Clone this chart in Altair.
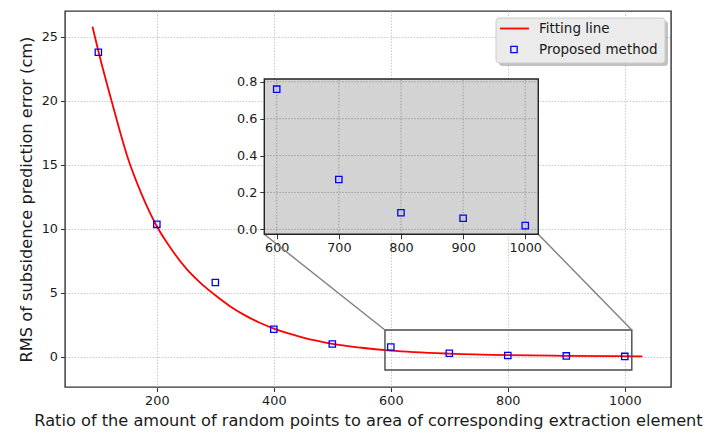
import altair as alt
import pandas as pd

# ---------------- data ----------------
fit_x = [90, 100, 125, 150, 175, 200, 225, 250, 275, 300, 325, 350, 375, 400, 425, 450, 475, 500,
         550, 600, 700, 800, 900, 1030]
fit_y = [25.8, 23.9, 19.6, 15.6, 12.6, 10.2, 8.4, 6.9, 5.75, 4.8, 3.95, 3.25, 2.67, 2.2, 1.82, 1.5, 1.23, 1.0,
         0.7, 0.48, 0.24, 0.12, 0.07, 0.03]

pts_x = [100, 200, 300, 400, 500, 600, 700, 800, 900, 1000]
pts_y = [23.8, 10.35, 5.8, 2.15, 0.99, 0.76, 0.27, 0.09, 0.06, 0.02]

main_xticks = [200, 400, 600, 800, 1000]
main_yticks = [0, 5, 10, 15, 20, 25]
inset_xticks = [600, 700, 800, 900, 1000]
inset_yticks = [0.0, 0.2, 0.4, 0.6, 0.8]

legend_labels = ["Fitting line", "Proposed method"]
x_title = "Ratio of the amount of random points to area of corresponding extraction element"
y_title = "RMS of subsidence prediction error (cm)"

# ---------------- layout / style constants ----------------
W, H = 606, 376
XD = [43, 1079]
YD = [-2.37, 27.03]
IXD = [580, 1021]
IYD = [-0.027, 0.815]
ZOOM = {"x": 590, "x2": 1012, "y": -1.04, "y2": 2.09}     # indicated region (main data coords)
INSET = {"x": 383.7, "x2": 852.1, "y": 9.57, "y2": 21.71}  # inset placement (main data coords)
FONT = "DejaVu Sans"
TXT = "#1a1a1a"


def px(x):
    return (x - XD[0]) / (XD[1] - XD[0]) * W


def py(y):
    return (YD[1] - y) / (YD[1] - YD[0]) * H


fit_df = pd.DataFrame({"x": fit_x, "y": fit_y})
pts_df = pd.DataFrame({"x": pts_x, "y": pts_y})
inset_pts_df = pts_df[pts_df["x"] >= 600]

xs = alt.Scale(domain=XD, nice=False, zero=False)
ys = alt.Scale(domain=YD, nice=False, zero=False)
x_axis = alt.Axis(values=main_xticks, format="d", title=x_title, grid=True, titlePadding=5)
y_axis = alt.Axis(values=main_yticks, format="d", title=y_title, grid=True, titlePadding=7)


def MX(f="x"):
    return alt.X(f"{f}:Q", scale=xs, axis=x_axis)


def MY(f="y"):
    return alt.Y(f"{f}:Q", scale=ys, axis=y_axis)


line = alt.Chart(fit_df).mark_line(color="#ff0000", strokeWidth=1.8, interpolate="monotone").encode(
    x=MX(), y=MY())

pts = alt.Chart(pts_df).mark_point(shape="square", filled=False, color="#0000ff", size=40,
                                   strokeWidth=1.3, opacity=1).encode(x=MX(), y=MY())

zoom_df = pd.DataFrame([ZOOM])
zoom_rect = alt.Chart(zoom_df).mark_rect(fillOpacity=0, stroke="#4a4a4a", strokeWidth=1.4).encode(
    x=MX("x"), x2="x2:Q", y=MY("y"), y2="y2:Q")

conn_df = pd.DataFrame({
    "x": [INSET["x"], INSET["x2"]],
    "y": [INSET["y"], INSET["y"]],
    "x2": [ZOOM["x"], ZOOM["x2"]],
    "y2": [ZOOM["y2"], ZOOM["y2"]],
})
connectors = alt.Chart(conn_df).mark_rule(color="#808080", strokeWidth=1.4).encode(
    x=MX("x"), x2="x2:Q", y=MY("y"), y2="y2:Q")

main = alt.layer(line, zoom_rect, connectors, pts)

# ---------------- inset ----------------
ixs = alt.Scale(domain=IXD, range=[px(INSET["x"]), px(INSET["x2"])], nice=False, zero=False)
iys = alt.Scale(domain=IYD, range=[py(INSET["y"]), py(INSET["y2"])], nice=False, zero=False)
ix_axis = alt.Axis(orient="bottom", offset=-(H - py(INSET["y"])), values=inset_xticks, format="d",
                   title=None, grid=False, domain=False)
iy_axis = alt.Axis(orient="left", offset=-px(INSET["x"]), values=inset_yticks, format=".1f",
                   title=None, grid=False, domain=False)


def IX(f="x"):
    return alt.X(f"{f}:Q", scale=ixs, axis=ix_axis)


def IY(f="y"):
    return alt.Y(f"{f}:Q", scale=iys, axis=iy_axis)


box_df = pd.DataFrame({"x": [IXD[0]], "x2": [IXD[1]], "y": [IYD[0]], "y2": [IYD[1]]})
inset_bg = alt.Chart(box_df).mark_rect(fill="#d3d3d3", stroke=None).encode(
    x=IX("x"), x2="x2:Q", y=IY("y"), y2="y2:Q")

vgrid_df = pd.DataFrame({"x": inset_xticks, "y": [IYD[0]] * len(inset_xticks), "y2": [IYD[1]] * len(inset_xticks)})
hgrid_df = pd.DataFrame({"y": inset_yticks, "x": [IXD[0]] * len(inset_yticks), "x2": [IXD[1]] * len(inset_yticks)})
vgrid = alt.Chart(vgrid_df).mark_rule(color="#9a9a9a", strokeWidth=0.9, strokeDash=[1.5, 1.5]).encode(
    x=IX("x"), y=IY("y"), y2="y2:Q")
hgrid = alt.Chart(hgrid_df).mark_rule(color="#9a9a9a", strokeWidth=0.9, strokeDash=[1.5, 1.5]).encode(
    y=IY("y"), x=IX("x"), x2="x2:Q")

inset_pts = alt.Chart(inset_pts_df).mark_point(shape="square", filled=False, color="#0000ff", size=40,
                                               strokeWidth=1.3, opacity=1).encode(x=IX(), y=IY())
inset_frame = alt.Chart(box_df).mark_rect(fillOpacity=0, stroke="#222222", strokeWidth=1.4).encode(
    x=IX("x"), x2="x2:Q", y=IY("y"), y2="y2:Q")

inset = alt.layer(inset_bg, vgrid, hgrid, inset_pts, inset_frame)

# ---------------- legend (drawn by hand, matplotlib style with shadow) ----------------
one = pd.DataFrame({"k": [0]})
LX0, LX1, LY0, LY1 = 431, 600, 7, 52
leg_shadow = alt.Chart(one).mark_rect(fill="#9a9a9a", opacity=0.6, cornerRadius=3).encode(
    x=alt.value(LX0 + 3), x2=alt.value(LX1 + 3), y=alt.value(LY0 + 3), y2=alt.value(LY1 + 3))
leg_box = alt.Chart(one).mark_rect(fill="#ebebeb", stroke="#cccccc", strokeWidth=1, cornerRadius=3).encode(
    x=alt.value(LX0), x2=alt.value(LX1), y=alt.value(LY0), y2=alt.value(LY1))
leg_line = alt.Chart(one).mark_rule(color="#ff0000", strokeWidth=1.8).encode(
    x=alt.value(435), x2=alt.value(464), y=alt.value(17.5))
leg_pt = alt.Chart(one).mark_point(shape="square", filled=False, color="#0000ff", size=40,
                                   strokeWidth=1.3, opacity=1).encode(x=alt.value(449), y=alt.value(38.5))
leg_t1 = alt.Chart(one).mark_text(align="left", baseline="middle", font=FONT, fontSize=13.5, color=TXT).encode(
    x=alt.value(474), y=alt.value(18), text=alt.value(legend_labels[0]))
leg_t2 = alt.Chart(one).mark_text(align="left", baseline="middle", font=FONT, fontSize=13.5, color=TXT).encode(
    x=alt.value(474), y=alt.value(39), text=alt.value(legend_labels[1]))
legend = alt.layer(leg_shadow, leg_box, leg_line, leg_pt, leg_t1, leg_t2)

chart = alt.layer(main, inset, legend).resolve_scale(x="independent", y="independent").properties(
    width=W, height=H,
    autosize=alt.AutoSizeParams(type="none"),
    padding={"left": 65, "top": 11, "right": 34, "bottom": 47},
).configure_view(
    stroke="#333333", strokeWidth=1.4
).configure_axis(
    labelFont=FONT, labelFontSize=12.8, labelColor=TXT, labelPadding=3,
    titleFont=FONT, titleFontSize=16.2, titleFontWeight="normal", titleColor=TXT,
    tickColor="#333333", tickSize=4.5, tickWidth=1,
    domain=False,
    gridColor="#c4c4c4", gridDash=[1.5, 1.5], gridWidth=0.9,
)

chart.save("out.html", embed_options={"renderer": "svg", "actions": False})
